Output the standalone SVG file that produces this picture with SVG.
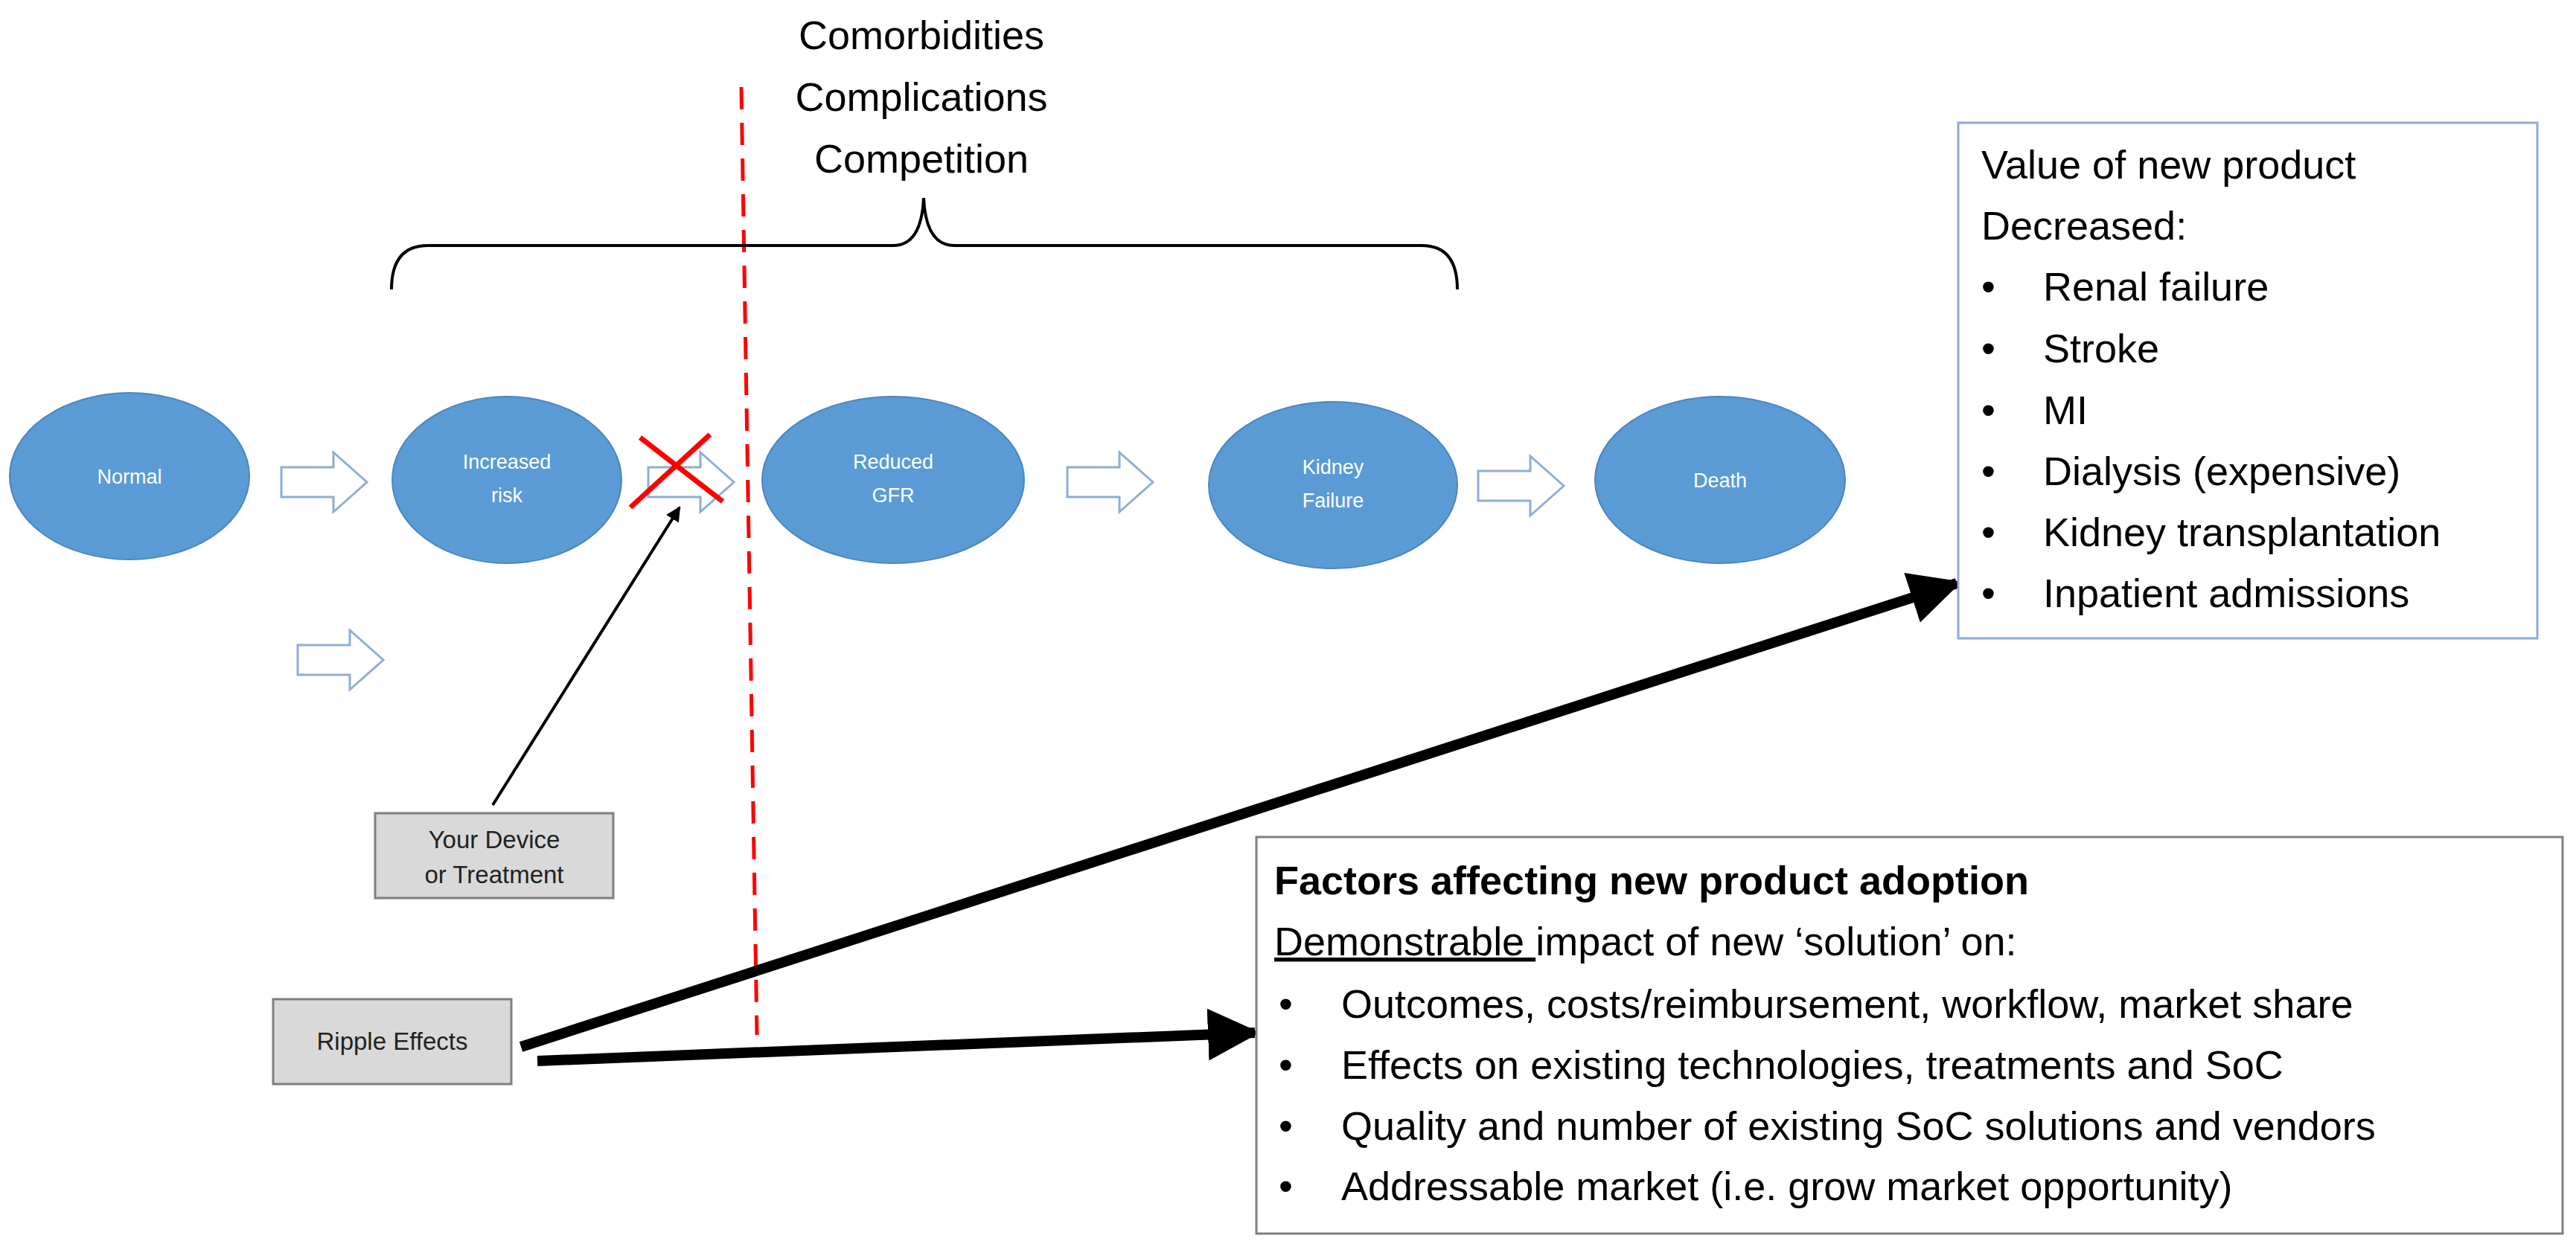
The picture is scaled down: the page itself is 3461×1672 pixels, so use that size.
<svg xmlns="http://www.w3.org/2000/svg" width="3461" height="1672" viewBox="0 0 3461 1672">
<style>
.ell{fill:#5b9bd5;stroke:#4a86bf;stroke-width:2}
.el{font-family:"Liberation Sans",Arial,sans-serif;font-size:27px;fill:#fff;text-anchor:middle}
.t{font-family:"Liberation Sans",Arial,sans-serif;font-size:54px;fill:#000}
.bx{font-family:"Liberation Sans",Arial,sans-serif;font-size:33px;fill:#222;text-anchor:middle}
.ha{fill:#fff;stroke:#8eaed4;stroke-width:3}
.gb{fill:#d9d9d9;stroke:#7f7f7f;stroke-width:3}
</style>
<defs>
<marker id="ah" viewBox="0 0 10 10" refX="9" refY="5" markerWidth="8" markerHeight="8" orient="auto" markerUnits="userSpaceOnUse"><path d="M0,0 L10,5 L0,10 z" fill="#000"/></marker>
<marker id="ahb" viewBox="0 0 10 10" refX="9" refY="5" markerWidth="5" markerHeight="5" orient="auto"><path d="M0,0 L10,5 L0,10 z" fill="#000"/></marker>
<path id="harrow" d="M0,20 H70 V0 L115,40 L70,80 V60 H0 Z"/>
</defs>
<g id="normal"><ellipse class="ell" cx="174" cy="640" rx="161" ry="112"/><text class="el" x="174" y="650">Normal</text></g>
<g id="increased"><ellipse class="ell" cx="681" cy="645" rx="154" ry="112"/><text class="el" x="681" y="630">Increased</text><text class="el" x="681" y="675">risk</text></g>
<g id="reduced"><ellipse class="ell" cx="1200" cy="645" rx="176" ry="112"/><text class="el" x="1200" y="630">Reduced</text><text class="el" x="1200" y="675">GFR</text></g>
<g id="kidney"><ellipse class="ell" cx="1791" cy="652" rx="167" ry="112"/><text class="el" x="1791" y="637">Kidney</text><text class="el" x="1791" y="682">Failure</text></g>
<g id="death"><ellipse class="ell" cx="2311" cy="645" rx="168" ry="112"/><text class="el" x="2311" y="655">Death</text></g>
<g id="hollow-arrows">
<use href="#harrow" class="ha" x="378" y="608"/>
<use href="#harrow" class="ha" x="871" y="608"/>
<use href="#harrow" class="ha" x="1434" y="608"/>
<use href="#harrow" class="ha" x="1986" y="613"/>
<use href="#harrow" class="ha" x="400" y="847"/>
</g>
<g id="cross" stroke="#ff0000" stroke-width="7"><line x1="847" y1="682" x2="954" y2="584"/><line x1="860" y1="588" x2="971" y2="674"/></g>
<line id="divider" x1="996" y1="117" x2="1017" y2="1391" stroke="#ff0000" stroke-width="5" stroke-dasharray="30,18"/>
<g id="factors-label" text-anchor="middle">
<text class="t" x="1238" y="66" text-anchor="middle">Comorbidities</text>
<text class="t" x="1238" y="149" text-anchor="middle">Complications</text>
<text class="t" x="1238" y="232" text-anchor="middle">Competition</text>
</g>
<path id="brace" d="M526,389 Q526,330 575,330 H1200 Q1238,330 1241,266 Q1244,330 1282,330 H1910 Q1958,330 1958,389" fill="none" stroke="#000" stroke-width="4"/>
<g id="device"><rect class="gb" x="504" y="1093" width="320" height="114"/><text class="bx" x="664" y="1140">Your Device</text><text class="bx" x="664" y="1187">or  Treatment</text></g>
<g id="ripple"><rect class="gb" x="367" y="1343" width="320" height="114"/><text class="bx" x="527" y="1411">Ripple Effects</text></g>
<g id="connectors">
<line x1="662" y1="1082" x2="913" y2="682" stroke="#000" stroke-width="4" marker-end="url(#ahb)"/>
<line x1="700" y1="1407" x2="2629" y2="784" stroke="#000" stroke-width="14" marker-end="url(#ahb)"/>
<line x1="722" y1="1426" x2="1686" y2="1388" stroke="#000" stroke-width="14" marker-end="url(#ahb)"/>
</g>
<g id="value-box">
<rect x="2631" y="165" width="778" height="693" fill="#fff" stroke="#8eaadb" stroke-width="3"/>
<text class="t" x="2662" y="240">Value of new product</text>
<text class="t" x="2662" y="322">Decreased:</text>
<g class="t"><text x="2662" y="404">•</text><text x="2662" y="487">•</text><text x="2662" y="570">•</text><text x="2662" y="652">•</text><text x="2662" y="734">•</text><text x="2662" y="816">•</text></g>
<text class="t" x="2745" y="404">Renal failure</text>
<text class="t" x="2745" y="487">Stroke</text>
<text class="t" x="2745" y="570">MI</text>
<text class="t" x="2745" y="652">Dialysis (expensive)</text>
<text class="t" x="2745" y="734">Kidney transplantation</text>
<text class="t" x="2745" y="816">Inpatient admissions</text>
</g>
<g id="adoption-box">
<rect x="1688" y="1125" width="1755" height="533" fill="#fff" stroke="#7f7f7f" stroke-width="3"/>
<text class="t" x="1712" y="1202" font-weight="bold">Factors affecting new product adoption</text>
<text class="t" x="1712" y="1284"><tspan text-decoration="underline">Demonstrable </tspan>impact of new ‘solution’ on:</text>
<text class="t" x="1718" y="1368">•</text><text class="t" x="1718" y="1450">•</text><text class="t" x="1718" y="1532">•</text><text class="t" x="1718" y="1613">•</text>
<text class="t" x="1802" y="1368">Outcomes, costs/reimbursement, workflow, market share</text>
<text class="t" x="1802" y="1450">Effects on existing technologies, treatments and SoC</text>
<text class="t" x="1802" y="1532">Quality and number of existing SoC solutions and vendors</text>
<text class="t" x="1802" y="1613">Addressable market (i.e. grow market opportunity)</text>
</g>
</svg>
